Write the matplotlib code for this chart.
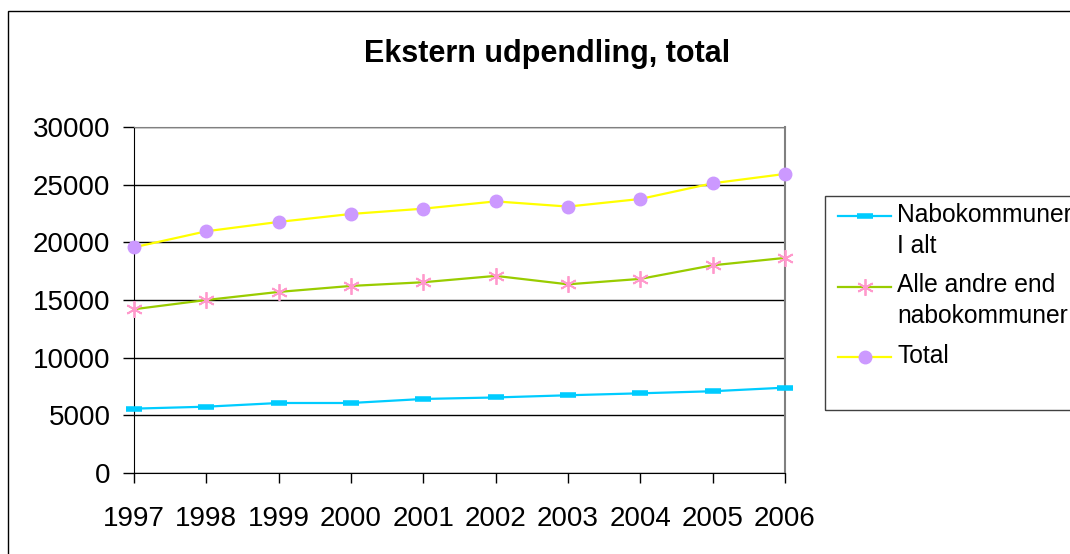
import matplotlib
matplotlib.use("Agg")
import matplotlib.pyplot as plt
from matplotlib.lines import Line2D
from matplotlib.patches import Rectangle

plt.rcParams["font.family"] = ["Liberation Sans", "DejaVu Sans"]

years = ["1997", "1998", "1999", "2000", "2001", "2002", "2003", "2004", "2005", "2006"]
nabo = [5580, 5750, 6070, 6070, 6420, 6550, 6740, 6910, 7090, 7400]
andre = [14200, 15000, 15700, 16220, 16540, 17090, 16360, 16830, 18010, 18650]
total = [19570, 20960, 21770, 22460, 22920, 23550, 23100, 23760, 25120, 25930]

W, H = 1070, 554
fig = plt.figure(figsize=(W / 100, H / 100), dpi=100)


def fx(px):
    return px / W


def fy(py):
    return 1 - py / H


# outer chart border
fig.add_artist(Rectangle((fx(8), fy(600)), fx(1100), fy(11) - fy(600),
                         transform=fig.transFigure, fill=False,
                         edgecolor="black", lw=1))

ax = fig.add_axes([fx(134), fy(473), fx(785) - fx(134), fy(127) - fy(473)])

x = list(range(len(years)))
ax.plot(x, nabo, color="#00CCFF", lw=1.6, marker="_", ms=12, mew=4,
        clip_on=False, zorder=3)
ax.plot(x, andre, color="#99CC00", lw=1.6, marker=(6, 2, 0), ms=12,
        mec="#FF99CC", mew=1.3, clip_on=False, zorder=3)
ax.plot(x, total, color="#FFFF00", lw=1.6, marker="o", ms=9,
        mfc="#CC99FF", mec="#CC99FF", clip_on=False, zorder=3)

ax.set_xlim(0, len(years) - 1)
ax.set_ylim(0, 30000)
ax.set_yticks(range(0, 30001, 5000))
ax.set_xticks(x)
ax.set_xticklabels(years)
ax.yaxis.grid(True, color="black", lw=1)
ax.set_axisbelow(True)

ax.tick_params(axis="y", direction="out", length=8, width=1, labelsize=20, pad=9)
ax.tick_params(axis="x", direction="out", length=7, width=1, labelsize=20, pad=17)
ax.spines["left"].set_color("black")
ax.spines["bottom"].set_color("black")
ax.spines["top"].set_color("#808080")
ax.spines["right"].set_color("#808080")
ax.spines["right"].set_linewidth(1.5)

fig.text(fx(547), fy(54), "Ekstern udpendling, total", ha="center",
         va="center", fontsize=22, fontweight="bold")

# legend drawn by hand so the handle sits on the first line of each entry
fig.add_artist(Rectangle((fx(825), fy(410)), fx(400), fy(196) - fy(410),
                         transform=fig.transFigure, fill=False,
                         edgecolor="#404040", lw=1))

entries = [
    (216, ["Nabokommuner", "I alt"], [222, 253],
     dict(marker="_", ms=12, mew=4, mec="#00CCFF")),
    (287, ["Alle andre end", "nabokommuner"], [292, 323],
     dict(marker=(6, 2, 0), ms=12, mec="#FF99CC", mew=1.3)),
    (357, ["Total"], [363],
     dict(marker="o", ms=9, mfc="#CC99FF", mec="#CC99FF")),
]
line_colors = ["#00CCFF", "#99CC00", "#FFFF00"]
for (hy, lines, bases, style), lc in zip(entries, line_colors):
    fig.add_artist(Line2D([fx(838), fx(891)], [fy(hy), fy(hy)], lw=1.6,
                          color=lc, transform=fig.transFigure))
    fig.add_artist(Line2D([fx(864.5)], [fy(hy)], lw=0,
                          transform=fig.transFigure, **style))
    for txt, by in zip(lines, bases):
        fig.text(fx(897), fy(by), txt, ha="left", va="baseline", fontsize=17.7)

fig.savefig("out.png", dpi=100)
